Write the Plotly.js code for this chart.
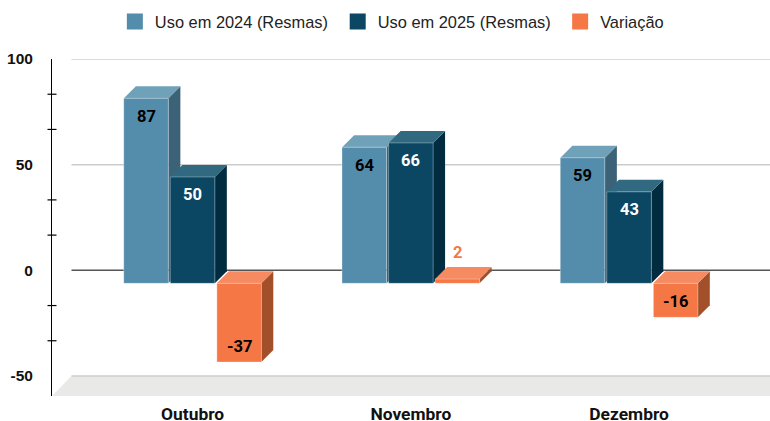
<!DOCTYPE html>
<html><head><meta charset="utf-8">
<script src="https://cdn.plot.ly/plotly-3.0.1.min.js"></script>
<style>html,body{margin:0;padding:0;background:#fff}#c{width:770px;height:421px}</style>
</head><body><div id="c"></div>
<script>
const categories = ['Outubro','Novembro','Dezembro'];
const seriesNames = ['Uso em 2024 (Resmas)','Uso em 2025 (Resmas)','Variação'];
const uso2024 = [87,64,59];
const uso2025 = [50,66,43];
const variacao = [-37,2,-16];
const frontColors = ['#548CAB','#0B4763','#F57746'];
const topColors = ['#6FA2B8','#316A80','#F68B62'];
const sideColors = ['#3B6277','#012B3F','#A34F2A'];
const labelColors = ['#000000','#FFFFFF','#000000'];
const majorTicks = [100,50,0,-50];
const minorTicks = [83.33,66.67,33.33,16.67,-16.67,-33.33];

const W=770,H=421,L=51.5,T=59,B=25;
const pxPerUnitY=(H-T-B)/159.47, pxPerUnitX=218.4;
const xRange=[-(192.2-L)/pxPerUnitX,(W-192.2)/pxPerUnitX];
const yRange=[-59.47,100];
const baseOff=-13/pxPerUnitY;
const frontScale=1.0066; // front plane of the pseudo-3D box sits slightly closer than the back wall
const dx=12/pxPerUnitX, dy=12/pxPerUnitY;
const period=46.5/pxPerUnitX, halfW=44.5/2/pxPerUnitX;
const all=[uso2024,uso2025,variacao];
const legendIds=['legend','legend2','legend3'];
const legendLeft=[114.4,337.4,560];

const traces=all.map((vals,k)=>({
  type:'bar',x:categories.map((_,i)=>i),y:vals.map(v=>v*frontScale),base:vals.map(()=>baseOff),
  name:seriesNames[k],showlegend:false,hoverinfo:'name',
  marker:{color:frontColors[k],line:{color:'rgba(255,255,255,0.3)',width:1}}
}));
all.forEach((vals,k)=>traces.push({
  type:'scatter',mode:'markers',x:[null],y:[null],name:seriesNames[k],legend:legendIds[k],
  marker:{symbol:'square',size:16,color:frontColors[k]}
}));

const poly=(pts,fill,layer)=>({type:'path',xref:'x',yref:'y',layer:layer||'between',
  path:'M'+pts.map(p=>p[0]+','+p[1]).join('L')+'Z',fillcolor:fill,line:{width:0}});
const shapes=[];
shapes.push(poly([[xRange[0]+19.5/pxPerUnitX,-50],[xRange[1],-50],[xRange[1],yRange[0]],[xRange[0],yRange[0]]],'#E9EAE8'));
majorTicks.forEach(v=>shapes.push({type:'line',xref:'x',yref:'y',layer:'between',
  x0:xRange[0]+19.5/pxPerUnitX,x1:xRange[1],y0:v,y1:v,
  line:{color:v===0?'#555555':'#CCCCCC',width:1.5}}));
categories.forEach((_,i)=>all.forEach((vals,k)=>{
  const v=vals[i]*frontScale, cx=i+(k-1)*period, x0=cx-halfW, x1=cx+halfW;
  const yTop=baseOff+Math.max(v,0), yBot=baseOff+Math.min(v,0);
  shapes.push(poly([[x1,yBot],[x1+dx,yBot+dy],[x1+dx,yTop+dy],[x1,yTop]],sideColors[k]));
  shapes.push(poly([[x0,yTop],[x0+dx,yTop+dy],[x1+dx,yTop+dy],[x1,yTop]],topColors[k]));
}));
minorTicks.forEach(v=>shapes.push({type:'line',xref:'paper',yref:'y',xsizemode:'pixel',xanchor:0,
  x0:-4.5,x1:4.5,y0:v,y1:v,layer:'above',line:{color:'#000',width:1.2}}));

const annotations=[];
categories.forEach((_,i)=>all.forEach((vals,k)=>{
  const v=vals[i], small=Math.abs(v)<10;
  annotations.push({xref:'x',yref:'y',x:i+(k-1)*period,y:baseOff+v*frontScale,showarrow:false,
    text:String(v),yshift:small?27:(v>0?-18:16),
    font:{family:'Roboto, sans-serif',size:16.5,weight:700,color:small?frontColors[k]:labelColors[k]}});
}));

const layout={
  width:W,height:H,margin:{l:L,r:0,t:T,b:B},paper_bgcolor:'#fff',plot_bgcolor:'#fff',
  barmode:'group',bargap:0.36,bargroupgap:0.043,
  showlegend:true,
  xaxis:{type:'linear',range:xRange,tickmode:'array',tickvals:categories.map((_,i)=>i),ticktext:categories,
    showgrid:false,zeroline:false,showline:false,ticks:'',ticklabelstandoff:6,
    tickfont:{family:'Roboto, sans-serif',size:17.4,weight:700,color:'#111'}},
  yaxis:{range:yRange,tickmode:'array',tickvals:majorTicks,ticktext:majorTicks.map(String),
    showgrid:false,zeroline:false,showline:true,linecolor:'#000',linewidth:1,ticks:'',ticklabelstandoff:15,
    tickfont:{family:'Liberation Sans, Arial, sans-serif',size:15.5,weight:700,color:'#111'}},
  shapes,annotations
};
legendIds.forEach((id,k)=>{
  layout[id]={orientation:'h',x:(legendLeft[k]-L)/(W-L),y:1.162,xanchor:'left',yanchor:'top',itemsizing:'trace',
    font:{family:'Liberation Sans, Arial, sans-serif',size:16.4,color:'#222'},bgcolor:'rgba(0,0,0,0)'};
});
Plotly.newPlot('c',traces,layout,{displayModeBar:false});
</script></body></html>
